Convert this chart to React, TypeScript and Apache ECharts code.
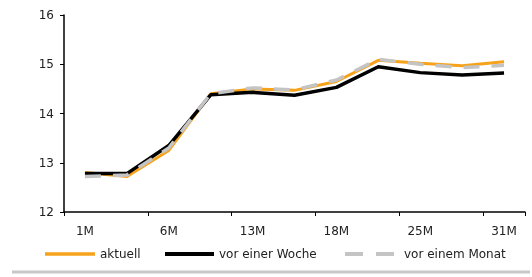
import React, { useEffect, useRef } from "react";
import * as echarts from "echarts";

const categories = ["1M", "3M", "6M", "9M", "13M", "16M", "18M", "21M", "25M", "28M", "31M"];
const aktuell = [12.8, 12.72, 13.25, 14.4, 14.5, 14.47, 14.65, 15.08, 15.02, 14.97, 15.05];
const vorEinerWoche = [12.78, 12.78, 13.35, 14.38, 14.43, 14.37, 14.53, 14.95, 14.83, 14.78, 14.82];
const vorEinemMonat = [12.72, 12.75, 13.3, 14.4, 14.52, 14.48, 14.68, 15.1, 15.0, 14.93, 14.98];
const legendNames = ["aktuell", "vor einer Woche", "vor einem Monat"];

export default function App() {
  const ref = useRef<HTMLDivElement>(null);
  useEffect(() => {
    const chart = echarts.init(ref.current!, null, { renderer: "svg" });
    const font = "DejaVu Sans, Liberation Sans, sans-serif";
    const textColor = "#222";
    const legendY = 254;
    chart.setOption({
      animation: false,
      grid: { left: 64, right: 7, top: 15, bottom: 65 },
      xAxis: {
        type: "category",
        data: categories,
        boundaryGap: true,
        axisLine: { lineStyle: { color: "#000", width: 1.5 } },
        axisTick: { show: true, length: 4, lineStyle: { color: "#000" } },
        axisLabel: { interval: 1, fontFamily: font, fontSize: 12, color: textColor, margin: 13 },
      },
      yAxis: {
        type: "value",
        min: 12,
        max: 16,
        interval: 1,
        splitLine: { show: false },
        axisLine: { show: true, lineStyle: { color: "#000", width: 1.5 } },
        axisTick: { show: true, length: 4, lineStyle: { color: "#000" } },
        axisLabel: { fontFamily: font, fontSize: 12, color: textColor, margin: 10 },
      },
      series: [
        {
          name: legendNames[0],
          type: "line",
          data: aktuell,
          symbol: "none",
          lineStyle: { color: "#f7a21b", width: 3 },
        },
        {
          name: legendNames[1],
          type: "line",
          data: vorEinerWoche,
          symbol: "none",
          lineStyle: { color: "#000", width: 3.5 },
        },
        {
          name: legendNames[2],
          type: "line",
          data: vorEinemMonat,
          symbol: "none",
          lineStyle: { color: "#c4c4c4", width: 3.5, type: [16, 12] },
        },
      ],
      graphic: [
        { type: "line", shape: { x1: 45, y1: legendY, x2: 95, y2: legendY }, style: { stroke: "#f7a21b", lineWidth: 3.5 } },
        { type: "text", x: 100, y: legendY, style: { text: legendNames[0], font: `12px ${font}`, fill: textColor, textVerticalAlign: "middle" } },
        { type: "line", shape: { x1: 165, y1: legendY, x2: 214, y2: legendY }, style: { stroke: "#000", lineWidth: 4 } },
        { type: "text", x: 219, y: legendY, style: { text: legendNames[1], font: `12px ${font}`, fill: textColor, textVerticalAlign: "middle" } },
        { type: "line", shape: { x1: 345, y1: legendY, x2: 395, y2: legendY }, style: { stroke: "#c4c4c4", lineWidth: 4, lineDash: [18, 13] } },
        { type: "text", x: 404, y: legendY, style: { text: legendNames[2], font: `12px ${font}`, fill: textColor, textVerticalAlign: "middle" } },
        { type: "line", shape: { x1: 12, y1: 272, x2: 530, y2: 272 }, style: { stroke: "#c8c8c8", lineWidth: 3 } },
      ],
    });
    return () => chart.dispose();
  }, []);
  return (
    <div
      ref={ref}
      style={{ position: "fixed", left: 0, top: 0, width: 532, height: 277 }}
    />
  );
}
